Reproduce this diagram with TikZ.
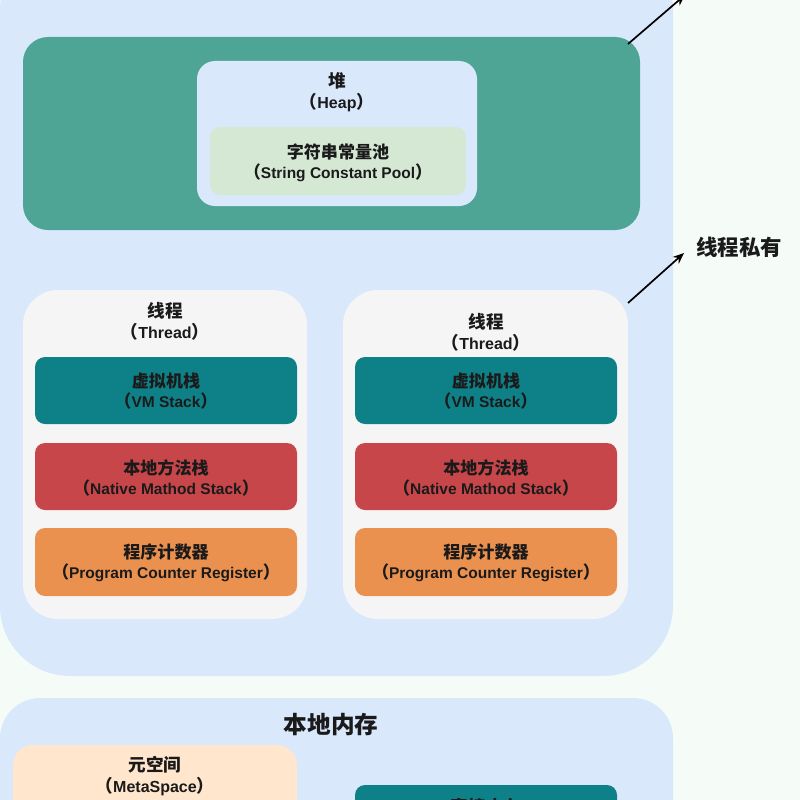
\documentclass[tikz,border=0pt]{standalone}
\usepackage{fontspec}
\setmainfont{Liberation Sans}
\newfontfamily\cjk{Noto Sans CJK SC}[Scale=1.1]
\usetikzlibrary{arrows.meta}
\definecolor{bg}{HTML}{F5FCF8}
\definecolor{framec}{HTML}{DAE8FC}
\definecolor{heapg}{HTML}{4FA595}
\definecolor{poolc}{HTML}{D5E8D4}
\definecolor{thr}{HTML}{F6F5F5}
\definecolor{vmc}{HTML}{0E8088}
\definecolor{natc}{HTML}{C7464A}
\definecolor{pcc}{HTML}{EA914F}
\definecolor{metac}{HTML}{FFE6CC}
\definecolor{ink}{HTML}{1A1A1A}
\newcommand{\lpar}{{\cjk\bfseries （}}
\newcommand{\rpar}{{\cjk\bfseries ）}}
\tikzset{
  box/.style={inner sep=0pt, draw=none},
  txt/.style={inner sep=0pt, align=center, text=ink, font=\bfseries\fontsize{15.5}{20}\selectfont},
  ttl/.style={inner sep=0pt, align=center, text=ink, font=\bfseries\fontsize{16}{21}\selectfont},
  arr/.style={-{Stealth[length=11pt,width=9pt]}, line width=1.7pt, black},
}
\begin{document}
\begin{tikzpicture}[x=1pt,y=-1pt]
\clip (0,0) rectangle (800,800);
\fill[bg] (0,0) rectangle (800,800);
% upper frame
\node[box, fill=framec, rounded corners=70pt, minimum width=673pt, minimum height=736pt] (upper) at (336.5,308) {};
% heap
\node[box, fill=heapg, rounded corners=25pt, minimum width=617pt, minimum height=193pt] (heapouter) at (331.5,133.5) {};
\node[box, fill=framec, rounded corners=18pt, minimum width=280pt, minimum height=145pt] (heap) at (337,133.5) {};
\node[ttl] (heapt) at (337,92.5) {{\cjk\bfseries 堆}\\\lpar Heap\rpar};
\node[box, fill=poolc, rounded corners=10pt, minimum width=256pt, minimum height=68pt] (pool) at (338,161) {};
\node[txt] (poolt) at (338,162.5) {{\cjk\bfseries 字符串常量池}\\\lpar String Constant Pool\rpar};
% threads
\node[box, fill=thr, rounded corners=35pt, minimum width=284pt, minimum height=329pt] (thrL) at (165,454.5) {};
\node[box, fill=thr, rounded corners=35pt, minimum width=285pt, minimum height=329pt] (thrR) at (485.5,454.5) {};
\node[ttl] (thrLt) at (165,321.5) {{\cjk\bfseries 线程}\\\lpar Thread\rpar};
\node[ttl] (thrRt) at (486,332) {{\cjk\bfseries 线程}\\\lpar Thread\rpar};
% left stacks
\node[box, fill=vmc, rounded corners=10pt, minimum width=262pt, minimum height=67pt] (vmL) at (166,390.5) {};
\node[txt] at (166,391.5) {{\cjk\bfseries 虚拟机栈}\\\lpar VM Stack\rpar};
\node[box, fill=natc, rounded corners=10pt, minimum width=262pt, minimum height=67pt] (natL) at (166,476.5) {};
\node[txt] at (166,477.5) {{\cjk\bfseries 本地方法栈}\\\lpar Native Mathod Stack\rpar};
\node[box, fill=pcc, rounded corners=10pt, minimum width=262pt, minimum height=68pt] (pcL) at (166,562) {};
\node[txt] at (166,562.5) {{\cjk\bfseries 程序计数器}\\\lpar Program Counter Register\rpar};
% right stacks
\node[box, fill=vmc, rounded corners=10pt, minimum width=262pt, minimum height=67pt] (vmR) at (486,390.5) {};
\node[txt] at (486,391.5) {{\cjk\bfseries 虚拟机栈}\\\lpar VM Stack\rpar};
\node[box, fill=natc, rounded corners=10pt, minimum width=262pt, minimum height=67pt] (natR) at (486,476.5) {};
\node[txt] at (486,477.5) {{\cjk\bfseries 本地方法栈}\\\lpar Native Mathod Stack\rpar};
\node[box, fill=pcc, rounded corners=10pt, minimum width=262pt, minimum height=68pt] (pcR) at (486,562) {};
\node[txt] at (486,562.5) {{\cjk\bfseries 程序计数器}\\\lpar Program Counter Register\rpar};
% lower frame
\node[box, fill=framec, rounded corners=40pt, minimum width=673pt, minimum height=202pt] (lower) at (336.5,799) {};
\node[inner sep=0pt, text=ink, font=\cjk\bfseries\fontsize{21.5}{26}\selectfont] (lowert) at (331,725) {本地内存};
\node[box, fill=metac, rounded corners=20pt, minimum width=284pt, minimum height=155pt] (meta) at (155,822.5) {};
\node[ttl] (metat) at (155,776) {{\cjk\bfseries 元空间}\\\lpar MetaSpace\rpar};
\node[box, fill=vmc, rounded corners=10pt, minimum width=262pt, minimum height=115pt] (direct) at (486,842.5) {};
\node[ttl] (directt) at (486,807) {{\cjk\bfseries 直接内存}};
% arrows and labels
\coordinate (a1s) at (628,44);
\coordinate (a1e) at (685,-5);
\coordinate (a2s) at (628,303);
\coordinate (a2e) at (684,253);
\draw[arr] (a1s) -- (a1e);
\draw[arr] (a2s) -- (a2e);
\node[inner sep=0pt, anchor=west, text=ink, font=\cjk\bfseries\fontsize{19.5}{23}\selectfont] (priv) at (696,247) {线程私有};
\end{tikzpicture}
\end{document}
